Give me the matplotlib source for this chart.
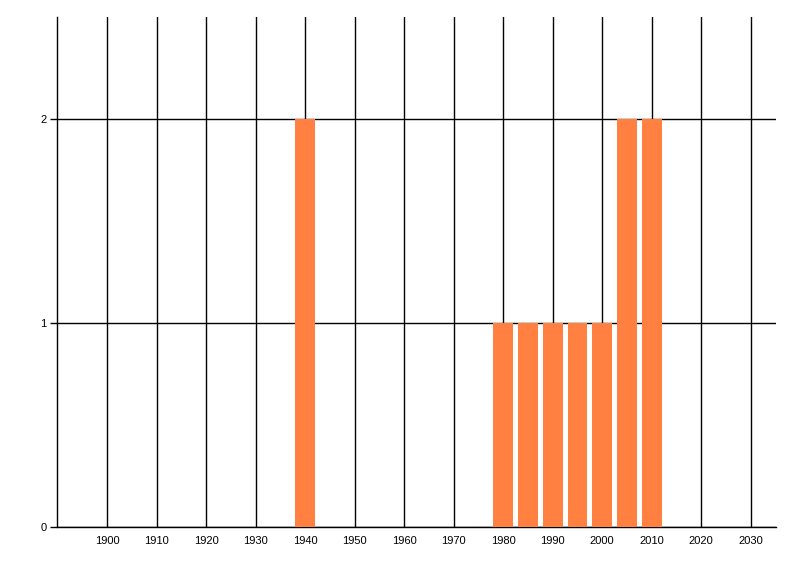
import matplotlib
matplotlib.use("Agg")
import matplotlib.pyplot as plt

plt.rcParams["font.family"] = ["Liberation Sans", "DejaVu Sans"]

years = [1940, 1980, 1985, 1990, 1995, 2000, 2005, 2010]
counts = [2, 1, 1, 1, 1, 1, 2, 2]
x_ticks = list(range(1900, 2031, 10))
y_ticks = [0, 1, 2]

fig = plt.figure(figsize=(8, 5.76), dpi=100)
ax = fig.add_axes([57.5 / 800, 1 - 527 / 576, (775.5 - 57.5) / 800, (527 - 17) / 576])

ax.set_xlim(1890, 2035)
ax.set_ylim(0, 2.5)

ax.bar(years, counts, width=4.0, color="#FF8040", zorder=3)

ax.set_xticks(x_ticks)
ax.set_xticklabels([str(t) for t in x_ticks])
ax.set_yticks(y_ticks)
ax.set_yticklabels([str(t) for t in y_ticks])

ax.grid(True, color="black", linewidth=1.0, zorder=1)
ax.set_axisbelow(True)

for s in ["top", "right"]:
    ax.spines[s].set_visible(False)
for s in ["left", "bottom"]:
    ax.spines[s].set_color("black")
    ax.spines[s].set_linewidth(1.0)

ax.tick_params(axis="x", length=0, pad=6.5, labelsize=8, colors="black")
ax.tick_params(axis="y", length=5, width=1.0, pad=3, labelsize=8, colors="black")

fig.savefig("out.png", dpi=100)
